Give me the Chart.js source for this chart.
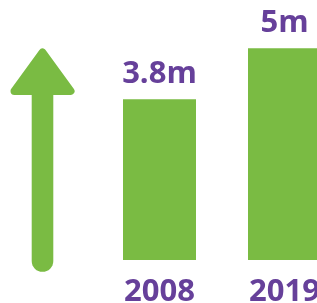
<!DOCTYPE html>
<html><head><meta charset="utf-8">
<script src="https://cdn.jsdelivr.net/npm/chart.js@4"></script>
<style>
html,body{margin:0;padding:0;background:#fff;overflow:hidden;}
#wrap{position:relative;width:317px;height:303px;overflow:hidden;}
#box{position:absolute;left:0;top:0;width:360px;height:303px;}
</style></head><body>
<div id="wrap"><div id="box"><canvas id="c"></canvas></div></div>
<script>
const categories = ['2008', '2019'];
const values = [3.8, 5];
const valueLabels = ['3.8m', '5m'];

const GREEN = '#7abb43';
const PURPLE = '#66409a';
const FONT_FAMILY = '"Open Sans", "DejaVu Sans", sans-serif';

const arrowPlugin = {
  id: 'arrow',
  beforeDatasetsDraw(chart) {
    const ctx = chart.ctx;
    ctx.save();
    ctx.fillStyle = GREEN;
    ctx.strokeStyle = GREEN;
    // shaft
    ctx.lineCap = 'round';
    ctx.lineWidth = 21.6;
    ctx.beginPath();
    ctx.moveTo(42.5, 92);
    ctx.lineTo(42.5, 261);
    ctx.stroke();
    // head
    ctx.lineJoin = 'round';
    ctx.lineWidth = 8;
    ctx.beginPath();
    ctx.moveTo(42.5, 52.5);
    ctx.lineTo(70.5, 91);
    ctx.lineTo(14.5, 91);
    ctx.closePath();
    ctx.fill();
    ctx.stroke();
    ctx.restore();
  }
};

const valueLabelPlugin = {
  id: 'valueLabels',
  afterDatasetsDraw(chart) {
    const ctx = chart.ctx;
    const meta = chart.getDatasetMeta(0);
    ctx.save();
    ctx.font = 'bold 31px ' + FONT_FAMILY;
    ctx.fillStyle = PURPLE;
    ctx.textAlign = 'center';
    ctx.textBaseline = 'alphabetic';
    meta.data.forEach((bar, i) => {
      ctx.fillText(valueLabels[i], bar.x, bar.y - 16);
    });
    ctx.restore();
  }
};

new Chart(document.getElementById('c'), {
  type: 'bar',
  data: {
    labels: categories,
    datasets: [{
      data: values,
      backgroundColor: GREEN,
      borderWidth: 0,
      barPercentage: 0.584,
      categoryPercentage: 1
    }]
  },
  options: {
    responsive: true,
    maintainAspectRatio: false,
    animation: false,
    layout: { padding: { left: 97, right: 13, top: 6, bottom: 0 } },
    plugins: { legend: { display: false }, tooltip: { enabled: false } },
    scales: {
      x: {
        grid: { display: false, drawTicks: false },
        border: { display: false },
        ticks: {
          color: PURPLE,
          font: { family: FONT_FAMILY, size: 31, weight: 'bold' },
          padding: 14,
          maxRotation: 0
        },
        afterFit(s) { s.height = 43; }
      },
      y: { display: false, min: 0, max: 6 }
    }
  },
  plugins: [arrowPlugin, valueLabelPlugin]
});
</script>
</body></html>
